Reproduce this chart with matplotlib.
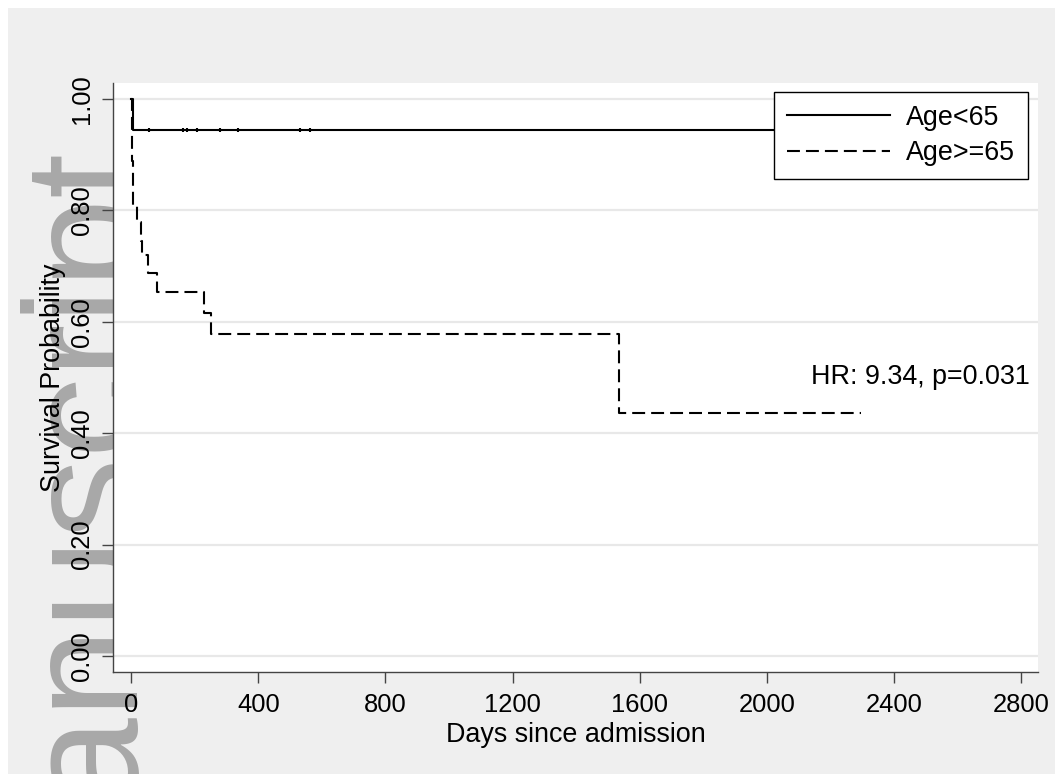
import matplotlib
matplotlib.use("Agg")
import matplotlib.pyplot as plt
from matplotlib.patches import Rectangle

plt.rcParams["font.family"] = ["Liberation Sans", "DejaVu Sans"]

# Kaplan-Meier steps
young_days = [0, 5, 2400]
young_surv = [1.0, 0.944, 0.944]
young_censor_days = [57, 164, 176, 208, 280, 337, 532, 564]

old_days = [0, 3, 7, 20, 30, 33, 54, 82, 230, 252, 1534, 2296]
old_surv = [1.0, 0.889, 0.81, 0.779, 0.745, 0.72, 0.688, 0.653, 0.616, 0.578, 0.436, 0.436]

group_labels = ["Age<65", "Age>=65"]
x_ticks = [0, 400, 800, 1200, 1600, 2000, 2400, 2800]
y_ticks = [0.0, 0.2, 0.4, 0.6, 0.8, 1.0]
hr_note = "HR: 9.34, p=0.031"

W, H = 1055, 774
fig = plt.figure(figsize=(W / 100, H / 100), dpi=100)
fig.patch.set_facecolor("white")

# grey backdrop with thin white border at left/top
fig.patches.append(Rectangle((8 / W, 0), 1 - 8 / W, 1 - 8 / H, transform=fig.transFigure,
                             facecolor="#efefef", edgecolor="none", zorder=-2))

# watermark text behind the plot region
fig.text(127 / W, 1 - 142 / H, "manuscript", rotation=90, rotation_mode="anchor",
         ha="right", va="baseline", fontsize=116, color="#a8a8a8", zorder=-1)

ax = fig.add_axes([113 / W, 1 - 672 / H, (1038 - 113) / W, (672 - 83) / H])
ax.set_facecolor("white")

ax.step(young_days, young_surv, where="post", color="black", lw=1.5, label=group_labels[0])
cens_y = [young_surv[1]] * len(young_censor_days)
ax.plot(young_censor_days, cens_y, ls="none", marker="|", ms=2.5, mew=1.5, color="black")
ax.step(old_days, old_surv, where="post", color="black", lw=1.5, dashes=(6.2, 2.9),
        label=group_labels[1])

ax.text(2140, 0.50, hr_note, fontsize=19.4, ha="left", va="center")

ax.set_xlim(-57, 2853)
ax.set_ylim(-0.0287, 1.0287)
ax.set_xticks(x_ticks)
ax.set_yticks(y_ticks)
ax.set_yticklabels(["%.2f" % v for v in y_ticks], rotation=90, va="center")
ax.yaxis.grid(True, color="#e8e8e8", lw=1.6)
ax.set_axisbelow(True)

for side in ["top", "right"]:
    ax.spines[side].set_visible(False)
for side in ["left", "bottom"]:
    ax.spines[side].set_color("#444444")
    ax.spines[side].set_linewidth(1.0)
ax.tick_params(direction="out", length=8, width=1, color="#444444", labelsize=18.4)
ax.tick_params(axis="x", pad=7)
ax.tick_params(axis="y", pad=5.5)

ax.set_xlabel("Days since admission", fontsize=19.4)
ax.set_ylabel("Survival Probability", fontsize=19.4)
ax.xaxis.set_label_coords(0.5, -0.085)
ax.yaxis.set_label_coords(-0.051, 0.5)

leg = ax.legend(loc="upper right", bbox_to_anchor=(0.989, 0.985), borderaxespad=0,
                fontsize=19.4, frameon=True, fancybox=False, handlelength=3.8,
                handletextpad=0.6, labelspacing=0.35, borderpad=0.48)
leg.get_frame().set_edgecolor("black")
leg.get_frame().set_linewidth(1.0)
leg.get_frame().set_alpha(1)

fig.savefig("out.png", dpi=100, facecolor=fig.get_facecolor())
